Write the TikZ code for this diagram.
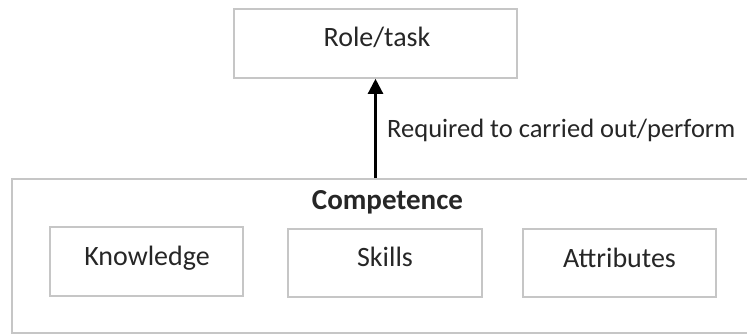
\documentclass[tikz,border=0pt]{standalone}
\usepackage{fontspec}
\setmainfont{Carlito}
\usetikzlibrary{arrows.meta}

\begin{document}
\begin{tikzpicture}[x=1pt,y=-1pt,
    box/.style={draw=gray!45, line width=1.6pt, inner sep=0pt},
    txt/.style={text=black!85, anchor=base, inner sep=0pt, font=\fontsize{28}{32}\selectfont}]

      \clip (0,0) rectangle (747,336);

      % boxes
      \node[box, minimum width=283pt, minimum height=69pt] (role) at (375.5,43.5) {};
      \node[box, minimum width=748pt, minimum height=154pt] (comp) at (386,256) {};
      \node[box, minimum width=193pt, minimum height=69pt] (know) at (146.5,261.5) {};
      \node[box, minimum width=194pt, minimum height=68pt] (skill) at (385,263) {};
      \node[box, minimum width=193pt, minimum height=68pt] (attr) at (619.5,263) {};

      % texts
      \node[txt] (roletxt) at (377,47) {Role/task};
      \node[txt, font=\fontsize{29}{32}\selectfont\bfseries] (title) at (387.5,210) {Competence};
      \node[txt] (knowtxt) at (147,266) {Knowledge};
      \node[txt] (skilltxt) at (385,267) {Skills};
      \node[txt] (attrtxt) at (619.5,267.5) {Attributes};
      \node[txt, anchor=base west, font=\fontsize{26.5}{30}\selectfont] (req) at (387,138) {Required to carried out/perform};

      \draw[black, line width=2.3pt, -{Triangle[length=15pt,width=15pt]}] (role.south |- comp.north) -- (role.south);

    \end{tikzpicture}
\end{document}
